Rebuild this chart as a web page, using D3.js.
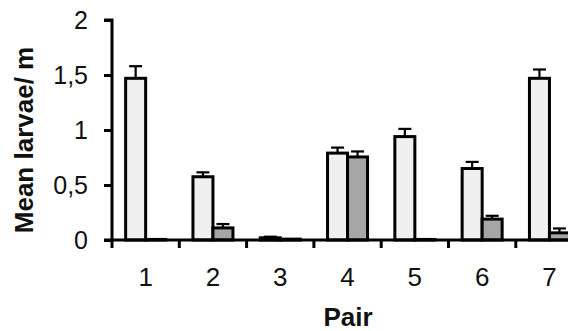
<!DOCTYPE html>
<html><head><meta charset="utf-8">
<script src="https://cdn.jsdelivr.net/npm/d3@7"></script>
<style>html,body{margin:0;padding:0;background:#fff;overflow:hidden}</style>
</head><body>
<svg id="c" width="568" height="331"></svg>
<script>
const pairs = ["1","2","3","4","5","6","7"];
const lightMeans = [1.47, 0.575, 0.02, 0.79, 0.94, 0.65, 1.47];
const lightErrs  = [0.11, 0.04, 0.01, 0.05, 0.07, 0.06, 0.08];
const darkMeans  = [0.005, 0.11, 0.008, 0.755, 0.005, 0.19, 0.065];
const darkErrs   = [0.0, 0.035, 0.0, 0.05, 0.0, 0.03, 0.04];
const yTicks = [0, 0.5, 1, 1.5, 2];
const yTickLabels = ["0", "0,5", "1", "1,5", "2"];
const series = [
  {key: "light", means: lightMeans, errs: lightErrs, fill: "#f0f0f0"},
  {key: "dark", means: darkMeans, errs: darkErrs, fill: "#a6a6a6"}
];

const svg = d3.select("#c");
const x0 = 112, bandW = 67.3;
const x = d3.scaleBand().domain(pairs).range([x0, x0 + bandW * pairs.length]).paddingInner(0).paddingOuter(0);
const xs = d3.scaleBand().domain(series.map(s => s.key)).range([0, 40]);
const y = d3.scaleLinear().domain([0, 2]).range([240, 20]);

// bars
series.forEach(s => {
  const g = svg.append("g");
  g.selectAll("rect").data(pairs).join("rect")
    .attr("x", (d) => x(d) + x.bandwidth() / 2 - 20 + xs(s.key))
    .attr("width", xs.bandwidth())
    .attr("y", (d, i) => y(s.means[i]))
    .attr("height", (d, i) => y(0) - y(s.means[i]))
    .attr("fill", s.fill)
    .attr("stroke", "#000")
    .attr("stroke-width", 3);
  // error bars
  const eg = svg.append("g").attr("stroke", "#000").attr("stroke-width", 2.2);
  pairs.forEach((d, i) => {
    if (s.errs[i] <= 0) return;
    const cx = x(d) + x.bandwidth() / 2 - 20 + xs(s.key) + xs.bandwidth() / 2;
    eg.append("line").attr("x1", cx).attr("x2", cx)
      .attr("y1", y(s.means[i])).attr("y2", y(s.means[i] + s.errs[i]));
    eg.append("line").attr("x1", cx - 6.5).attr("x2", cx + 6.5)
      .attr("y1", y(s.means[i] + s.errs[i])).attr("y2", y(s.means[i] + s.errs[i]));
  });
});

// y axis
const yAxis = d3.axisLeft(y).tickValues(yTicks).tickSize(8).tickPadding(16)
  .tickFormat((d, i) => yTickLabels[i]);
const ya = svg.append("g").attr("transform", `translate(${x0},0)`).call(yAxis);
ya.select(".domain").attr("stroke-width", 3).attr("d", `M-8,${y(2)}H0V${y(0)}`);
ya.selectAll(".tick line").attr("stroke-width", 3);
ya.selectAll(".tick text").attr("font-family", "Arial, 'Liberation Sans', sans-serif")
  .attr("font-size", 25).attr("fill", "#111");

// x axis
const xa = svg.append("g").attr("transform", `translate(0,${y(0)})`);
xa.append("line").attr("x1", x0 - 8).attr("x2", 568).attr("y1", 0).attr("y2", 0)
  .attr("stroke", "#000").attr("stroke-width", 3);
xa.selectAll("line.tk").data(pairs).join("line").attr("class", "tk")
  .attr("x1", d => x(d)).attr("x2", d => x(d)).attr("y1", 0).attr("y2", 8)
  .attr("stroke", "#000").attr("stroke-width", 3);
xa.selectAll("text").data(pairs).join("text")
  .attr("x", d => x(d) + x.bandwidth() / 2)
  .attr("y", 46)
  .attr("text-anchor", "middle")
  .attr("font-family", "Arial, 'Liberation Sans', sans-serif")
  .attr("font-size", 26).attr("fill", "#111")
  .text(d => d);

// titles
svg.append("text").attr("x", 348).attr("y", 326).attr("text-anchor", "middle")
  .attr("font-family", "Arial, 'Liberation Sans', sans-serif").attr("font-weight", "bold")
  .attr("font-size", 26).attr("fill", "#111").text("Pair");
svg.append("text").attr("transform", "translate(33,140) rotate(-90)").attr("text-anchor", "middle")
  .attr("font-family", "Arial, 'Liberation Sans', sans-serif").attr("font-weight", "bold")
  .attr("font-size", 26).attr("fill", "#111").text("Mean larvae/ m");
</script>
</body></html>
